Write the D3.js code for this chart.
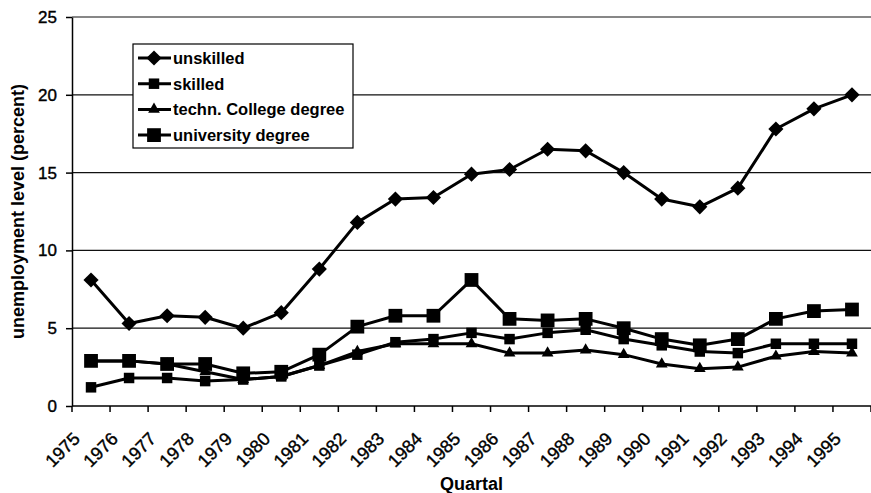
<!DOCTYPE html>
<html lang="en">
<head>
  <title>Unemployment by qualification</title>
  <meta charset="UTF-8">
  <style>
    body { margin: 0; background: #fff; font-family: "Liberation Sans", Arial, sans-serif; }
  </style>
  <script src="https://cdn.jsdelivr.net/npm/d3@7"></script>
</head>
<body>
<script>
  var years = ["1975", "1976", "1977", "1978", "1979", "1980", "1981", "1982", "1983", "1984", "1985",
               "1986", "1987", "1988", "1989", "1990", "1991", "1992", "1993", "1994", "1995"];

  var unskilled     = [8.1, 5.3, 5.8, 5.7, 5.0, 6.0, 8.8, 11.8, 13.3, 13.4, 14.9, 15.2, 16.5, 16.4, 15.0, 13.3, 12.8, 14.0, 17.8, 19.1, 20.0];
  var skilled       = [1.2, 1.8, 1.8, 1.6, 1.7, 1.9, 2.6, 3.3, 4.1, 4.3, 4.7, 4.3, 4.7, 4.9, 4.3, 3.9, 3.5, 3.4, 4.0, 4.0, 4.0];
  var technCollege  = [2.9, 2.9, 2.7, 2.2, 1.7, 1.9, 2.6, 3.5, 4.0, 4.0, 4.0, 3.4, 3.4, 3.6, 3.3, 2.7, 2.4, 2.5, 3.2, 3.5, 3.4];
  var university    = [2.9, 2.9, 2.7, 2.7, 2.1, 2.2, 3.3, 5.1, 5.8, 5.8, 8.1, 5.6, 5.5, 5.6, 5.0, 4.3, 3.9, 4.3, 5.6, 6.1, 6.2];

  var seriesNames = ["unskilled", "skilled", "techn. College degree", "university degree"];
  var yTicks = [0, 5, 10, 15, 20, 25];

  var series = [
    { name: seriesNames[0], values: unskilled,    marker: "diamond",  size: 115 },
    { name: seriesNames[1], values: skilled,      marker: "square",   size: 110 },
    { name: seriesNames[2], values: technCollege, marker: "triangle", size: 60 },
    { name: seriesNames[3], values: university,   marker: "square",   size: 190 }
  ];

  var W = 871, H = 493;
  var plotL = 72, plotR = 871, plotT = 17, plotB = 406;

  var svg = d3.select("body").append("svg").attr("width", W).attr("height", H);

  var x = d3.scaleBand().domain(years).range([plotL, plotR]);
  var y = d3.scaleLinear().domain([0, 25]).range([plotB, plotT]);

  // gridlines
  svg.append("g").selectAll("line")
    .data(yTicks.filter(function(d) { return d > 0; }))
    .enter().append("line")
    .attr("x1", plotL).attr("x2", plotR)
    .attr("y1", function(d) { return y(d); })
    .attr("y2", function(d) { return y(d); })
    .attr("stroke", "#111").attr("stroke-width", 1.2);

  // y axis
  var yAxis = svg.append("g")
    .attr("transform", "translate(" + plotL + ",0)")
    .call(d3.axisLeft(y).tickValues(yTicks).tickSize(6).tickSizeOuter(0).tickPadding(9));
  yAxis.select(".domain").attr("stroke", "#000").attr("stroke-width", 1.5);
  yAxis.selectAll(".tick line").attr("stroke", "#000").attr("stroke-width", 1.5);
  yAxis.selectAll("text")
    .style("font-size", "17px")
    .style("font-family", "Liberation Sans, Arial, sans-serif")
    .attr("fill", "#000").attr("stroke", "#000").attr("stroke-width", 0.4);

  // x axis, ticks between categories
  var xg = svg.append("g");
  xg.append("line")
    .attr("x1", plotL).attr("x2", plotR)
    .attr("y1", plotB).attr("y2", plotB)
    .attr("stroke", "#000").attr("stroke-width", 1.5);
  var bounds = years.map(function(d) { return x(d); }).concat([x.range()[1]]);
  xg.selectAll("line.tick")
    .data(bounds)
    .enter().append("line")
    .attr("class", "tick")
    .attr("x1", function(d) { return d; }).attr("x2", function(d) { return d; })
    .attr("y1", plotB).attr("y2", plotB + 6)
    .attr("stroke", "#000").attr("stroke-width", 1.5);
  xg.selectAll("text")
    .data(years)
    .enter().append("text")
    .attr("transform", function(d) {
      return "translate(" + (x(d) + x.bandwidth() / 2 - 10) + "," + (plotB + 34) + ")rotate(-45)";
    })
    .style("text-anchor", "end")
    .style("font-size", "18px")
    .attr("stroke", "#000").attr("stroke-width", 0.4)
    .text(function(d) { return d; });

  // axis titles
  svg.append("text")
    .attr("transform", "translate(24," + ((plotT + plotB) / 2) + ")rotate(-90)")
    .style("text-anchor", "middle")
    .style("font-size", "18px")
    .style("font-weight", "bold")
    .text("unemployment level (percent)");

  svg.append("text")
    .attr("x", (plotL + plotR) / 2)
    .attr("y", 490)
    .style("text-anchor", "middle")
    .style("font-size", "18px")
    .style("font-weight", "bold")
    .text("Quartal");

  function symbolFor(s) {
    var t = s.marker === "triangle" ? d3.symbolTriangle : d3.symbolSquare;
    return d3.symbol().type(t).size(s.size)();
  }

  // lines and markers
  var line = d3.line()
    .x(function(d, i) { return x(years[i]) + x.bandwidth() / 2; })
    .y(function(d) { return y(d); });

  series.forEach(function(s) {
    var g = svg.append("g");
    g.append("path")
      .attr("d", line(s.values))
      .attr("fill", "none")
      .attr("stroke", "#000")
      .attr("stroke-width", 3)
      .attr("stroke-linejoin", "round");
    g.selectAll("path.m")
      .data(s.values)
      .enter().append("path")
      .attr("class", "m")
      .attr("d", symbolFor(s))
      .attr("transform", function(d, i) {
        return "translate(" + (x(years[i]) + x.bandwidth() / 2) + "," + y(d) + ")" +
          (s.marker === "diamond" ? "rotate(45)" : "");
      })
      .attr("fill", "#000");
  });

  // legend
  var legend = svg.append("g").attr("transform", "translate(133,44)");
  legend.append("rect")
    .attr("width", 220).attr("height", 104)
    .attr("fill", "#fff").attr("stroke", "#000").attr("stroke-width", 1.2);
  var rows = legend.selectAll("g.row")
    .data(series)
    .enter().append("g")
    .attr("class", "row")
    .attr("transform", function(d, i) { return "translate(0," + (14 + i * 25.7) + ")"; });
  rows.append("line")
    .attr("x1", 5).attr("x2", 38)
    .attr("stroke", "#000").attr("stroke-width", 3);
  rows.append("path")
    .attr("d", function(d) { return symbolFor(d); })
    .attr("transform", function(d) { return "translate(21,0)" + (d.marker === "diamond" ? "rotate(45)" : ""); })
    .attr("fill", "#000");
  rows.append("text")
    .attr("x", 40).attr("y", 6)
    .style("font-size", "16.5px")
    .style("font-weight", "bold")
    .text(function(d) { return d.name; });
</script>
</body>
</html>
